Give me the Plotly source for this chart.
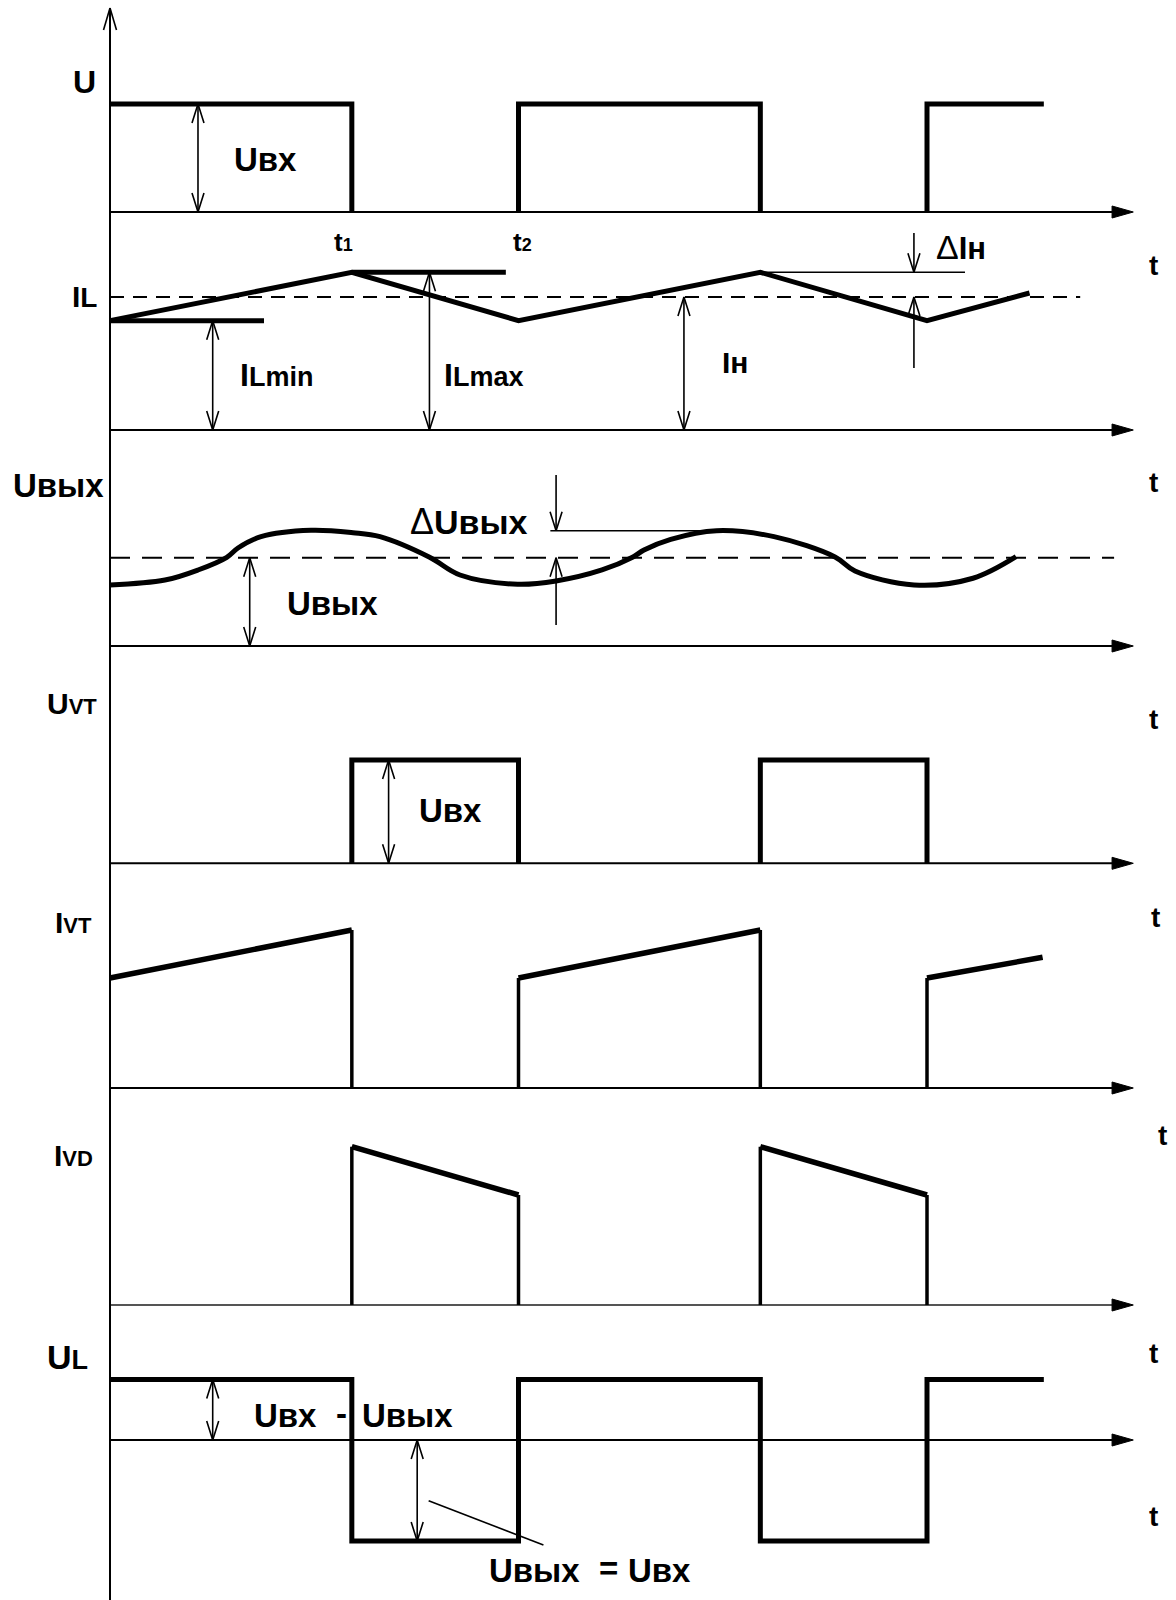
import plotly.graph_objects as go

# ------------------------------------------------------------------ data
# time in units where the switching period T = 10 (t1 = 5.92, t2 = 10)
T_SWITCH = [5.92, 10.0, 15.92, 20.0]        # t1, t2, t3, t4
T_END = 22.86                                # end of the square waveforms
T_AXIS_LINE = 24.58                          # end of each time-axis line
T_AXIS_TIP = 25.05                           # tip of each time-axis arrow

U_IN = 1.0                                   # Uвх

IL_T = [0.0, 5.92, 10.0, 15.92, 20.0, 22.51]
IL_V = [0.822, 1.186, 0.822, 1.186, 0.822, 1.03]
IL_MIN, IL_MAX, I_LOAD = 0.822, 1.186, 1.0
IL_MIN_MARK_END = 3.77
IL_MAX_MARK_END = 9.69

UOUT_T = [0.0, 1.346, 2.154, 2.859, 3.133, 3.696, 4.920, 5.949, 6.610, 7.824,
          8.568, 9.978, 10.918, 12.044, 12.791, 13.072, 13.726, 14.849, 16.255,
          17.748, 18.237, 19.682, 21.126, 22.179]
UOUT_V = [0.691, 0.747, 0.861, 1.005, 1.110, 1.238, 1.310, 1.283, 1.238, 1.005,
          0.804, 0.699, 0.736, 0.861, 1.005, 1.087, 1.208, 1.306, 1.238,
          1.008, 0.849, 0.691, 0.767, 1.011]
UOUT_MEAN = 1.0
UOUT_PEAK = 1.306

IVT_LOW, IVT_HIGH = 0.827, 1.188
IVT_LAST_T, IVT_LAST_V = 22.83, 0.983
IVD_HIGH, IVD_LOW = 1.19, 0.827

UL_HIGH = 0.60       # Uвх - Uвых
UL_LOW = -1.0        # -Uвых

# ------------------------------------------------------------------ layout
W, H = 1176, 1600
X0, XS = 110.0, 40.85          # pixel of t = 0, pixels per time unit
PANELS = [                     # (baseline pixel, pixels per unit)
    (212.0, 108.0),            # U
    (430.0, 133.0),            # IL
    (646.0, 88.3),             # Uвых
    (863.3, 103.3),            # UVT
    (1088.0, 133.0),           # IVT
    (1305.0, 133.0),           # IVD
    (1440.0, 101.0),           # UL
]
FONT = "Liberation Sans, Arial, sans-serif"
THICK, THIN, AXW = 5, 1.6, 2

fig = go.Figure()


def ax_id(i):
    return "y" if i == 0 else f"y{i + 1}"


def add(i, t, v, width=THICK, dash=None, shape="linear", fill=None, color="black"):
    fig.add_trace(go.Scatter(
        x=t, y=v, xaxis="x", yaxis=ax_id(i), mode="lines",
        line=dict(color=color, width=width, dash=dash, shape=shape),
        fill=fill, fillcolor="black" if fill else None,
        hoverinfo="skip", showlegend=False))


def vhead(i, t, tip, direction):
    L = 19.0 / PANELS[i][1]
    w = 6.0 / XS
    return ([t - w, t, t + w, None], [tip - direction * L, tip, tip - direction * L, None])


def dim(i, t, v_from, v_to, both=True):
    xs, ys = [t, t, None], [v_from, v_to, None]
    d = 1 if v_to > v_from else -1
    hx, hy = vhead(i, t, v_to, d)
    xs += hx; ys += hy
    if both:
        hx, hy = vhead(i, t, v_from, -d)
        xs += hx; ys += hy
    return xs, ys


def thin(i, parts):
    xs, ys = [], []
    for px, py in parts:
        xs += px; ys += py
    add(i, xs, ys, width=THIN)


def time_axis(i, color="black"):
    add(i, [0, T_AXIS_LINE], [0, 0], width=AXW, color=color)
    h = 6.0 / PANELS[i][1]
    add(i, [T_AXIS_LINE - 0.05, T_AXIS_TIP, T_AXIS_LINE - 0.05, T_AXIS_LINE - 0.05],
        [h, 0, -h, h], width=1, fill="toself")


def square(hi, lo, end):
    t, v, level = [0.0], [hi], hi
    for ts in T_SWITCH:
        other = lo if level == hi else hi
        t += [ts, ts]; v += [level, other]
        level = other
    t.append(end); v.append(level)
    return t, v


t1, t2, t3, t4 = T_SWITCH

# ---- panel 0 : U  (only the "on" pulses are drawn thick, "off" lies on the axis)
time_axis(0)
add(0, [0, t1, t1, None, t2, t2, t3, t3, None, t4, t4, T_END],
    [U_IN, U_IN, 0, None, 0, U_IN, U_IN, 0, None, 0, U_IN, U_IN])
thin(0, [dim(0, 2.154, 0.0, U_IN)])

# ---- panel 1 : IL
time_axis(1)
add(1, [0, T_AXIS_LINE - 0.83], [I_LOAD, I_LOAD], width=AXW, dash="14px,9px")
add(1, IL_T, IL_V)
add(1, [0, IL_MIN_MARK_END, None, t1, IL_MAX_MARK_END],
    [IL_MIN, IL_MIN, None, IL_MAX, IL_MAX])
thin(1, [dim(1, 2.514, 0.0, IL_MIN), dim(1, 7.82, 0.0, IL_MAX),
         dim(1, 14.05, 0.0, I_LOAD),
         dim(1, 19.68, 1.481, IL_MAX, both=False),
         dim(1, 19.68, 0.466, I_LOAD, both=False),
         ([t3, 20.93, None], [IL_MAX, IL_MAX, None])])

# ---- panel 2 : Uвых
time_axis(2)
add(2, [0, T_AXIS_LINE], [UOUT_MEAN, UOUT_MEAN], width=AXW, dash="20px,12px")
add(2, UOUT_T, UOUT_V, shape="spline")
thin(2, [dim(2, 3.42, 0.0, UOUT_MEAN),
         dim(2, 10.92, 1.937, UOUT_PEAK, both=False),
         dim(2, 10.92, 0.238, UOUT_MEAN, both=False),
         ([10.78, 14.93, None], [UOUT_PEAK, UOUT_PEAK, None])])

# ---- panel 3 : UVT
time_axis(3)
add(3, [t1, t1, t2, t2, None, t3, t3, t4, t4],
    [0, U_IN, U_IN, 0, None, 0, U_IN, U_IN, 0])
thin(3, [dim(3, 6.82, 0.0, U_IN)])

# ---- panel 4 : IVT
time_axis(4)
add(4, [0, t1, None, t2, t3, None, t4, IVT_LAST_T],
    [IVT_LOW, IVT_HIGH, None, IVT_LOW, IVT_HIGH, None, IVT_LOW, IVT_LAST_V], width=5.5)
add(4, [t1, t1, None, t2, t2, None, t3, t3, None, t4, t4],
    [IVT_HIGH, 0, None, 0, IVT_LOW, None, IVT_HIGH, 0, None, 0, IVT_LOW], width=3.5)

# ---- panel 5 : IVD
time_axis(5, color="#555555")
add(5, [t1, t2, None, t3, t4], [IVD_HIGH, IVD_LOW, None, IVD_HIGH, IVD_LOW], width=5.5)
add(5, [t1, t1, None, t2, t2, None, t3, t3, None, t4, t4],
    [0, IVD_HIGH, None, IVD_LOW, 0, None, 0, IVD_HIGH, None, IVD_LOW, 0], width=3.5)

# ---- panel 6 : UL
time_axis(6)
add(6, *square(UL_HIGH, UL_LOW, T_END))
thin(6, [dim(6, 2.514, 0.0, UL_HIGH), dim(6, 7.52, 0.0, UL_LOW),
         ([7.80, 10.61, None], [-0.601, -1.04, None])])

# ---- common vertical axis with open arrow head
tip = 1 - 8 / H
shapes = [
    dict(type="line", xref="x", yref="paper", x0=0, x1=0, y0=0, y1=tip,
         line=dict(color="black", width=AXW)),
    dict(type="line", xref="x", yref="paper", x0=-6.5 / XS, x1=0, y0=tip - 22 / H, y1=tip,
         line=dict(color="black", width=THIN)),
    dict(type="line", xref="x", yref="paper", x0=6.5 / XS, x1=0, y0=tip - 22 / H, y1=tip,
         line=dict(color="black", width=THIN)),
]

# ---- text labels (pixel placement)
def sp(size, txt):
    return f"<span style='font-size:{size}px'>{txt}</span>"


LABELS = [
    ("<b>U</b>", 84, 82, 32),
    ("<b>Uвх</b>", 265, 160, 33),
    ("<b>t" + sp(18, "1") + "</b>", 343, 242, 26),
    ("<b>t" + sp(18, "2") + "</b>", 522, 242, 26),
    (sp(34, "Δ") + "<b>Iн</b>", 961, 247, 31),
    ("<b>I" + sp(28, "L") + "</b>", 84, 296, 30),
    ("<b>I" + sp(27, "Lmin") + "</b>", 276, 375, 32),
    ("<b>I" + sp(27, "Lmax") + "</b>", 483, 375, 32),
    ("<b>Iн</b>", 735, 362, 30),
    ("<b>Uвых</b>", 58, 486, 33),
    (sp(36, "Δ") + "<b>Uвых</b>", 469, 522, 34),
    ("<b>Uвых</b>", 332, 603, 33),
    ("<b>U" + sp(22, "VT") + "</b>", 72, 703, 30),
    ("<b>Uвх</b>", 450, 810, 33),
    ("<b>I" + sp(22, "VT") + "</b>", 73, 922, 30),
    ("<b>I" + sp(22, "VD") + "</b>", 73, 1155, 30),
    ("<b>U" + sp(27, "L") + "</b>", 67, 1357, 34),
    ("<b>Uвх</b>", 285, 1415, 33),
    ("<b>-</b>", 341.5, 1413, 33),
    ("<b>Uвых</b>", 407.5, 1415, 33),
    ("<b>Uвых</b>", 534, 1570, 33),
    ("<b>=</b>", 608, 1568, 33),
    ("<b>Uвх</b>", 659.5, 1570, 33),
]
for (x, y) in [(1153, 265), (1153, 482), (1153, 720), (1155, 917),
               (1162, 1135), (1153, 1353), (1153, 1516)]:
    LABELS.append(("<b>t</b>", x, y, 28))

annotations = [
    dict(text=txt, x=x / W, y=1 - y / H, xref="paper", yref="paper",
         xanchor="center", yanchor="middle", showarrow=False,
         font=dict(family=FONT, size=size, color="black"))
    for txt, x, y, size in LABELS
]

layout = dict(
    width=W, height=H, margin=dict(l=0, r=0, t=0, b=0, pad=0),
    paper_bgcolor="white", plot_bgcolor="white", showlegend=False,
    xaxis=dict(range=[-X0 / XS, (W - X0) / XS], visible=False, fixedrange=True,
               domain=[0, 1]),
    shapes=shapes, annotations=annotations,
)
for i, (b, s) in enumerate(PANELS):
    key = "yaxis" if i == 0 else f"yaxis{i + 1}"
    ax = dict(range=[-(H - b) / s, b / s], domain=[0, 1], visible=False,
              fixedrange=True, anchor="x")
    if i > 0:
        ax["overlaying"] = "y"
    layout[key] = ax
fig.update_layout(**layout)

fig.write_html("out.html", config={"displayModeBar": False})
